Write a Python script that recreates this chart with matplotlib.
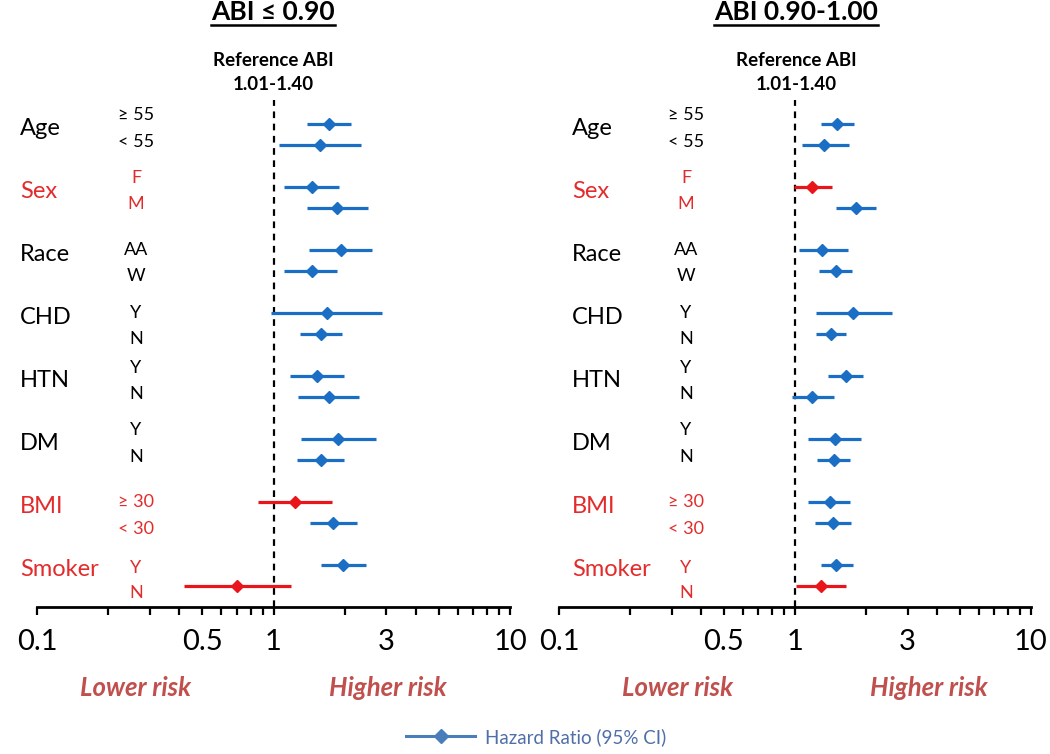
import matplotlib
matplotlib.use("Agg")
import matplotlib.pyplot as plt
from matplotlib.lines import Line2D
from matplotlib.transforms import blended_transform_factory
from matplotlib.ticker import NullFormatter

plt.rcParams['font.family'] = ['Lato', 'DejaVu Sans']

# ---------------- data ----------------
groups = ["Age", "Sex", "Race", "CHD", "HTN", "DM", "BMI", "Smoker"]
sublabels = [["≥ 55", "< 55"], ["F", "M"], ["AA", "W"], ["Y", "N"],
             ["Y", "N"], ["Y", "N"], ["≥ 30", "< 30"], ["Y", "N"]]
red_groups = ["Sex", "BMI", "Smoker"]

panel_titles = ["ABI ≤ 0.90", "ABI 0.90-1.00"]
reference_label = ["Reference ABI", "1.01-1.40"]

# ABI <= 0.90 : hazard ratio, lower CI, upper CI (row order as shown)
hr_left = [1.71, 1.58, 1.46, 1.86, 1.92, 1.45, 1.69, 1.59,
           1.53, 1.71, 1.88, 1.59, 1.23, 1.79, 1.97, 0.70]
lo_left = [1.38, 1.05, 1.11, 1.39, 1.41, 1.11, 0.98, 1.29,
           1.17, 1.27, 1.31, 1.26, 0.86, 1.42, 1.59, 0.42]
hi_left = [2.13, 2.35, 1.90, 2.52, 2.62, 1.86, 2.88, 1.95,
           1.99, 2.31, 2.72, 1.99, 1.76, 2.26, 2.47, 1.18]
sig_left = [True, True, True, True, True, True, True, True,
            True, True, True, True, False, True, True, False]

# ABI 0.90-1.00
hr_right = [1.51, 1.33, 1.18, 1.81, 1.30, 1.49, 1.76, 1.42,
            1.64, 1.18, 1.48, 1.46, 1.41, 1.45, 1.49, 1.29]
lo_right = [1.29, 1.07, 0.99, 1.49, 1.04, 1.26, 1.23, 1.23,
            1.38, 0.97, 1.14, 1.24, 1.14, 1.22, 1.29, 1.01]
hi_right = [1.78, 1.69, 1.43, 2.20, 1.68, 1.74, 2.58, 1.64,
            1.94, 1.46, 1.90, 1.71, 1.71, 1.73, 1.76, 1.64]
sig_right = [True, True, False, True, True, True, True, True,
             True, True, True, True, True, True, True, False]

tick_values = [0.1, 0.5, 1, 3, 10]
tick_labels = ["0.1", "0.5", "1", "3", "10"]
minor_values = [0.2, 0.3, 0.4, 0.6, 0.7, 0.8, 0.9, 2, 4, 5, 6, 7, 8, 9]

legend_label = "Hazard Ratio (95% CI)"
lower_text = "Lower risk"
higher_text = "Higher risk"

# ---------------- style ----------------
W, H = 1050, 754
BLUE = "#1a6fc4"
RED = "#e8161b"
TXT_RED = "#e32b2b"
RISK_RED = "#c0504d"
LEG_BLUE = "#4a7ebb"

fig = plt.figure(figsize=(W / 100, H / 100), dpi=100)


def fx(px):
    return px / W


def fy(py):
    return 1 - py / H


panels = [
    dict(x0=37, x1=510, glabel_x=20, slabel_x=136, one_x=273,
         lower_x=136, higher_x=388,
         hr=hr_left, lo=lo_left, hi=hi_left, sig=sig_left),
    dict(x0=559, x1=1031, glabel_x=572, slabel_x=686, one_x=796,
         lower_x=678, higher_x=929,
         hr=hr_right, lo=lo_right, hi=hi_right, sig=sig_right),
]
top_px, axis_px = 100, 607
row0_px, row_step = 124, 21
sub_offsets = [(-0.45, 0.85), (-0.45, 0.8), (0.0, 1.25), (0.0, 1.25),
               (-0.4, 0.85), (-0.45, 0.85), (0.0, 1.3), (0.15, 1.35)]

title_texts = []
for p_i, p in enumerate(panels):
    ax = fig.add_axes([fx(p["x0"]), fy(axis_px), fx(p["x1"] - p["x0"]),
                       (axis_px - top_px) / H])
    ax.set_xscale("log")
    ax.set_xlim(0.1, 10)
    ax.set_ylim((axis_px - row0_px) / row_step, (top_px - row0_px) / row_step)
    for s in ["left", "right", "top"]:
        ax.spines[s].set_visible(False)
    ax.spines["bottom"].set_linewidth(2.0)
    ax.set_yticks([])
    ax.set_xticks(tick_values)
    ax.set_xticklabels(tick_labels, fontsize=21)
    ax.set_xticks(minor_values, minor=True)
    ax.xaxis.set_minor_formatter(NullFormatter())
    ax.tick_params(axis="x", which="both", direction="out", length=6,
                   width=1.6, pad=10, colors="black")
    ax.patch.set_alpha(0)

    ax.axvline(1, color="black", lw=1.6, ls=(0, (3, 2.5)), zorder=1)

    for g_i, g in enumerate(groups):
        for r in range(2):
            k = 2 * g_i + r
            y = 3 * g_i + r
            col = BLUE if p["sig"][k] else RED
            ax.plot([p["lo"][k], p["hi"][k]], [y, y], color=col, lw=2.3,
                    solid_capstyle="butt", zorder=3)
            ax.plot([p["hr"][k]], [y], marker="D", color=col, markersize=6,
                    zorder=4)

    tr = blended_transform_factory(fig.transFigure, ax.transData)
    for g_i, g in enumerate(groups):
        c = TXT_RED if g in red_groups else "black"
        ax.text(fx(p["glabel_x"]), 3 * g_i + 0.2, g, transform=tr,
                ha="left", va="center", fontsize=17, color=c)
        for r in range(2):
            ax.text(fx(p["slabel_x"]), 3 * g_i + sub_offsets[g_i][r],
                    sublabels[g_i][r], transform=tr, ha="center",
                    va="center", fontsize=13, color=c)

    t = fig.text(fx(p["one_x"]), fy(12), panel_titles[p_i], ha="center",
                 va="center", fontsize=19, fontweight="bold")
    title_texts.append(t)
    fig.text(fx(p["one_x"]), fy(60), reference_label[0], ha="center",
             va="center", fontsize=13.5, fontweight="bold")
    fig.text(fx(p["one_x"]), fy(85), reference_label[1], ha="center",
             va="center", fontsize=13.5, fontweight="bold")
    fig.text(fx(p["lower_x"]), fy(688), lower_text, ha="center",
             va="center", fontsize=18.5, fontweight="bold", style="italic",
             color=RISK_RED)
    fig.text(fx(p["higher_x"]), fy(688), higher_text, ha="center",
             va="center", fontsize=18.5, fontweight="bold", style="italic",
             color=RISK_RED)

fig.canvas.draw()
renderer = fig.canvas.get_renderer()
for t in title_texts:
    bb = t.get_window_extent(renderer)
    fig.add_artist(Line2D([bb.x0 / W, bb.x1 / W], [fy(25), fy(25)],
                          transform=fig.transFigure, color="black", lw=1.8))

handle = Line2D([], [], color=LEG_BLUE, lw=2.2, marker="D", markersize=7)
leg = fig.legend([handle], [legend_label], loc="center",
                 bbox_to_anchor=(fx(536), fy(737)), frameon=False,
                 fontsize=13.5, handlelength=3.7, handletextpad=0.5)
for txt in leg.get_texts():
    txt.set_color("#4f6fa8")

fig.savefig("out.png", dpi=100)
